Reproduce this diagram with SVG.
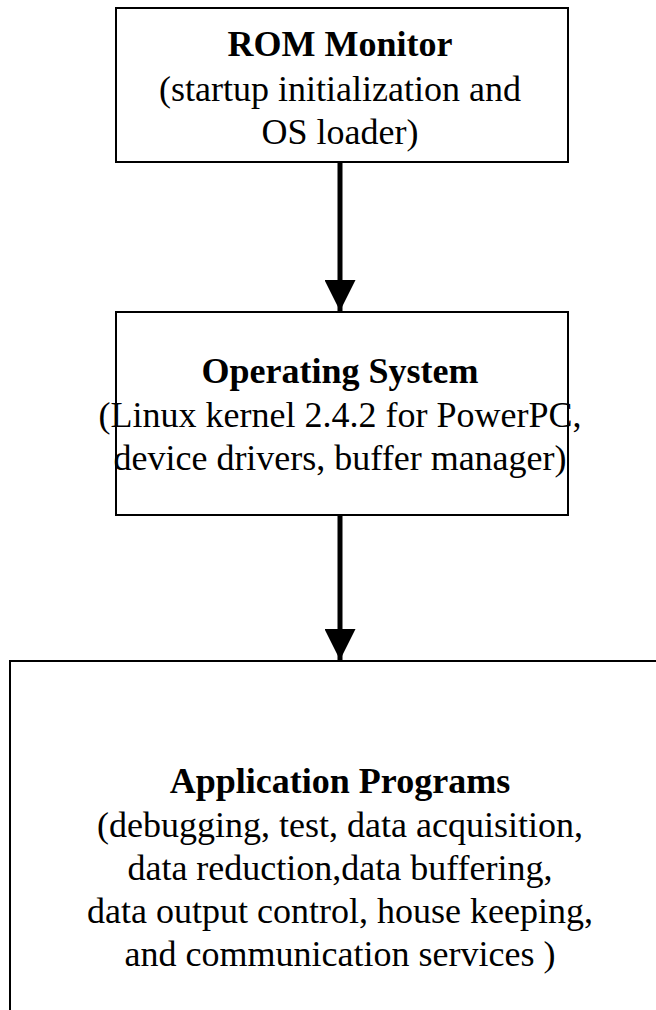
<svg xmlns="http://www.w3.org/2000/svg" width="656" height="1010" viewBox="0 0 656 1010">
<style>
.box{fill:#fff;stroke:#000;stroke-width:2}
.t{font-family:"Liberation Serif","Times New Roman",serif;font-size:36px;text-anchor:middle;fill:#000}
.b{font-weight:bold}
.ln{stroke:#000;stroke-width:5}
</style>
<defs>
<marker id="ah" markerUnits="userSpaceOnUse" markerWidth="32" markerHeight="31" refX="31" refY="15.5" orient="auto">
<path d="M0,0 L31,15.5 L0,31 Z" fill="#000"/>
</marker>
</defs>
<rect width="656" height="1010" fill="#fff"/>
<g id="rom-monitor">
<rect class="box" x="116" y="8" width="452" height="154"/>
<text class="t b" x="340" y="56">ROM Monitor</text>
<text class="t" x="340" y="101">(startup initialization and</text>
<text class="t" x="340" y="144">OS loader)</text>
</g>
<g id="operating-system">
<rect class="box" x="116" y="312" width="452" height="203"/>
<text class="t b" x="340" y="383">Operating System</text>
<text class="t" x="340" y="427">(Linux kernel 2.4.2 for PowerPC,</text>
<text class="t" x="340" y="470">device drivers, buffer manager)</text>
</g>
<g id="application-programs">
<rect class="box" x="10" y="661" width="670" height="400"/>
<text class="t b" x="340" y="793">Application Programs</text>
<text class="t" x="340" y="837">(debugging, test, data acquisition,</text>
<text class="t" x="340" y="880">data reduction,data buffering,</text>
<text class="t" x="340" y="923">data output control, house keeping,</text>
<text class="t" x="340" y="966">and communication services )</text>
</g>
<g id="connectors">
<line class="ln" x1="340" y1="162" x2="340" y2="311" marker-end="url(#ah)"/>
<line class="ln" x1="340" y1="515" x2="340" y2="660" marker-end="url(#ah)"/>
</g>
</svg>
